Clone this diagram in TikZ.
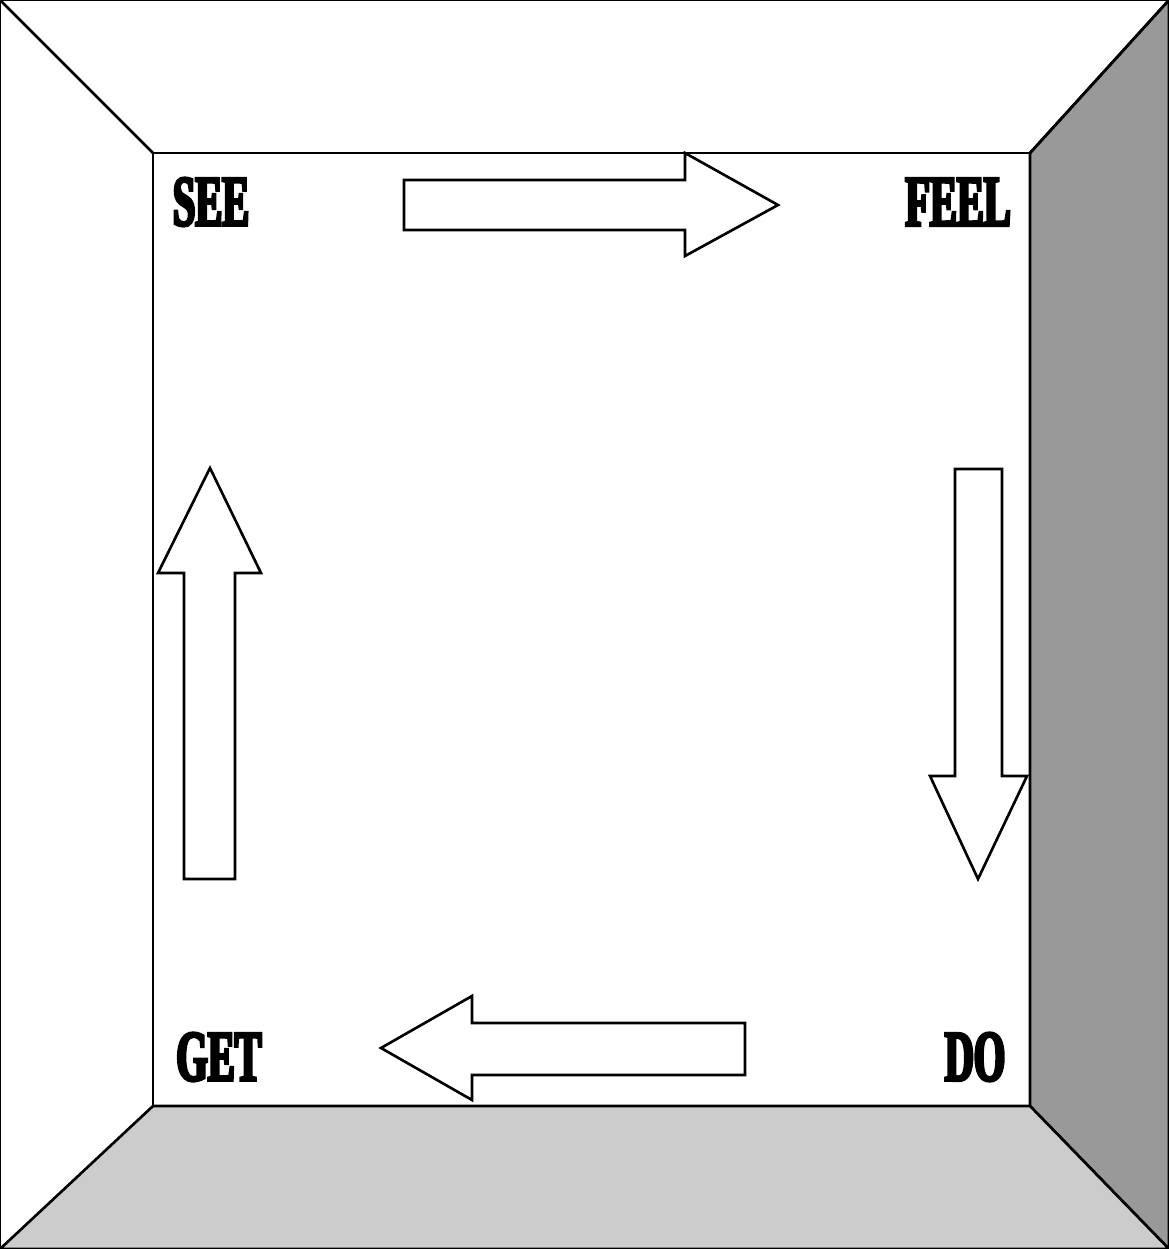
\documentclass[tikz,border=0pt]{standalone}
\usepackage{fontspec}
\newfontfamily\postfont[FakeStretch=0.56, FakeBold=4]{Liberation Serif Bold}
\tikzset{
    word/.style={font=\postfont\fontsize{20.5}{20.5}\selectfont, inner sep=0pt},
    wall/.style={draw, line width=.75pt},
    blockarrow/.style={draw, line width=.75pt, fill=white, line join=miter}
}
\begin{document}
\begin{tikzpicture}[x=.1mm, y=-.1mm]
\useasboundingbox (0,0) rectangle (1169,1249);

% walls of the room
\fill[white](0,0) rectangle (1169,1249);
\draw[wall, fill=black!40](1030,153)--(1169,0)--(1169,1249)--(1030,1106)--cycle;
\draw[wall, fill=black!20](153,1106)--(1030,1106)--(1169,1249)--(0,1249)--cycle;
\draw[wall](0,0) rectangle (1169,1249);
\draw[wall](153,153) rectangle (1030,1106);
\draw[wall](0,0)--(153,153);
\draw[wall](1169,0)--(1030,153);

% words
\node[word] (see) at (211,202) {SEE};
\node[word] (feel) at (958,202) {FEEL};
\node[word] (do) at (975,1057) {DO};
\node[word] (get) at (219,1057) {GET};

% arrows
\draw[blockarrow](404,180)--(685,180)--(685,153)--(778,205)--(685,256)--(685,230)--(404,230)--cycle;
\draw[blockarrow](955,469)--(1002,469)--(1002,776)--(1027,776)--(978,879)--(930,776)--(955,776)--cycle;
\draw[blockarrow](745,1023)--(472,1023)--(472,996)--(381,1048)--(472,1100)--(472,1075)--(745,1075)--cycle;
\draw[blockarrow](184,879)--(184,573)--(158,573)--(210,468)--(261,573)--(235,573)--(235,879)--cycle;
\end{tikzpicture}
\end{document}
